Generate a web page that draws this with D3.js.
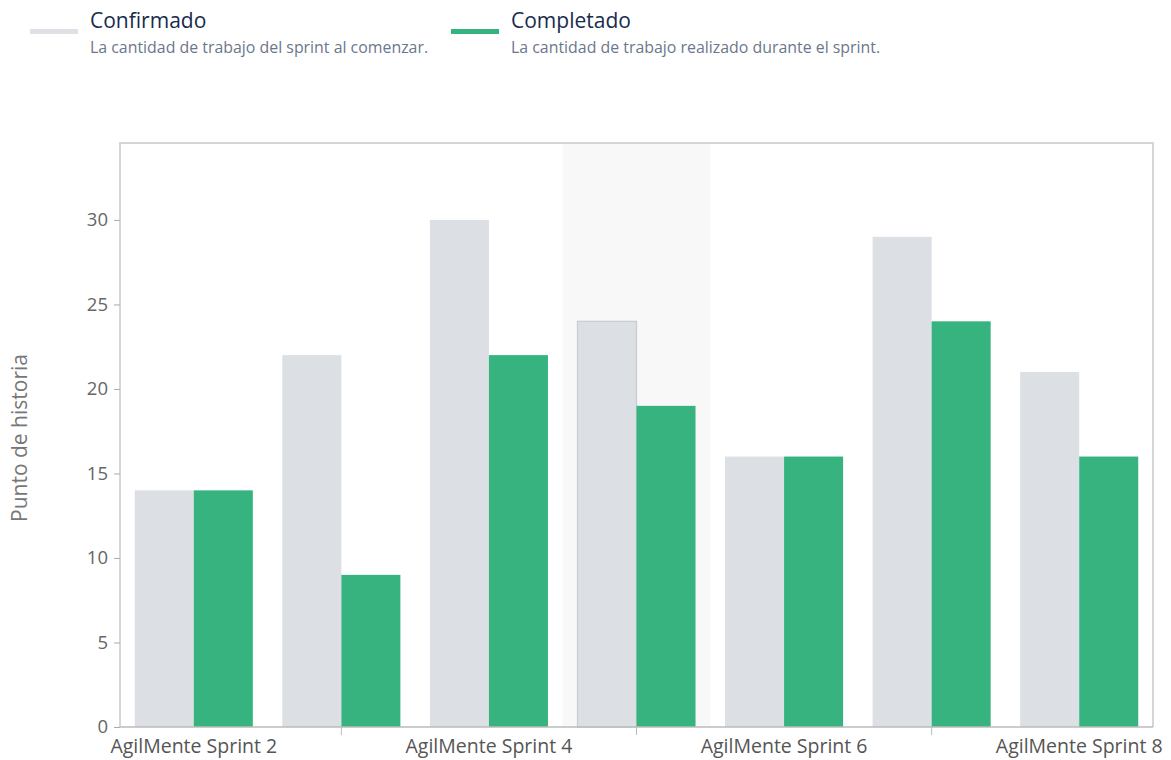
<!DOCTYPE html>
<html><head><meta charset="utf-8">
<script src="https://cdn.jsdelivr.net/npm/d3@7"></script>
<style>body{margin:0;background:#fff;font-family:"Open Sans","Noto Sans",sans-serif;}</style>
</head><body><svg id="c" width="1171" height="760" font-family="Open Sans, Noto Sans, sans-serif"></svg>
<script>
const categories = ["AgilMente Sprint 2","AgilMente Sprint 3","AgilMente Sprint 4","AgilMente Sprint 5","AgilMente Sprint 6","AgilMente Sprint 7","AgilMente Sprint 8"];
const confirmado = [14, 22, 30, 24, 16, 29, 21];
const completado = [14, 9, 22, 19, 16, 24, 16];
const seriesNames = ["Confirmado","Completado"];
const seriesDesc = ["La cantidad de trabajo del sprint al comenzar.","La cantidad de trabajo realizado durante el sprint."];
const yTicks = [0,5,10,15,20,25,30];
const highlighted = 3;

const FONT = "Open Sans, Noto Sans, sans-serif";
const colors = ["#dcdfe3","#36b37e"];
const svg = d3.select("#c");
const m = {left:120, right:1153, top:143, bottom:727};

const x = d3.scaleBand().domain(categories).range([m.left, m.right]).padding(0);
const xs = d3.scaleBand().domain(seriesNames).range([x.bandwidth()*0.1, x.bandwidth()*0.9]);
const y = d3.scaleLinear().domain([0, 34.55]).range([m.bottom, m.top]);

// legend
const legX = [30, 451];
seriesNames.forEach((s,i)=>{
  const g = svg.append("g");
  g.append("rect").attr("x",legX[i]).attr("y",29).attr("width",48).attr("height",5).attr("fill", i===0?"#dfe1e6":colors[1]);
  g.append("text").attr("x",legX[i]+60).attr("y",28).text(s).attr("font-size",21).attr("fill","#172b4d");
  g.append("text").attr("x",legX[i]+60).attr("y",53).text(seriesDesc[i]).attr("font-size",15.9).attr("fill","#6b778c");
});

// highlight band
svg.append("rect").attr("x", x(categories[highlighted])).attr("y", m.top).attr("width", x.bandwidth()).attr("height", m.bottom-m.top).attr("fill","#f8f8f8");

// bars
const data = categories.map((c,i)=>({c, vals:[confirmado[i], completado[i]], i}));
const groups = svg.append("g").selectAll("g").data(data).join("g").attr("transform", d=>`translate(${x(d.c)},0)`);
groups.selectAll("rect").data(d=>d.vals.map((v,k)=>({v,k,i:d.i}))).join("rect")
  .attr("x", d=>xs(seriesNames[d.k]))
  .attr("y", d=>y(d.v))
  .attr("width", xs.bandwidth())
  .attr("height", d=>y(0)-y(d.v))
  .attr("fill", d=>colors[d.k])
  .attr("stroke", d=>(d.i===highlighted && d.k===0)?"#c8ccd1":"none")
  .attr("stroke-width", 1.2);

// frame
svg.append("path").attr("d", `M${m.left},${m.bottom}V${m.top}H${m.right}V${m.bottom}`).attr("fill","none").attr("stroke","#d6d6d6").attr("stroke-width",2);

// y axis
const ya = svg.append("g").attr("transform",`translate(${m.left},0)`).call(d3.axisLeft(y).tickValues(yTicks).tickSize(6).tickPadding(6));
ya.attr("font-family", FONT);
ya.select(".domain").remove();
ya.selectAll(".tick line").attr("stroke","#aaa");
ya.selectAll("text").attr("font-size",18.5).attr("fill","#666");

// x axis
const xa = svg.append("g").attr("transform",`translate(0,${m.bottom})`).call(d3.axisBottom(x).tickSize(8));
xa.attr("font-family", FONT);
xa.select(".domain").attr("stroke","#bbb").attr("stroke-width",1.5).attr("d",`M${m.left},0H${m.right}`);
xa.selectAll(".tick").each(function(d,i){
  const t = d3.select(this);
  if(i%2===0){ t.select("line").remove(); }
  else { t.select("text").remove(); t.select("line").attr("stroke","#bbb"); }
});
xa.selectAll("text").attr("y",26).attr("dy",0).attr("font-size",19.5).attr("fill","#555");

// y label
svg.append("text").attr("transform","translate(27,438) rotate(-90)").attr("text-anchor","middle").text("Punto de historia").attr("font-size",21).attr("fill","#777");
</script></body></html>
